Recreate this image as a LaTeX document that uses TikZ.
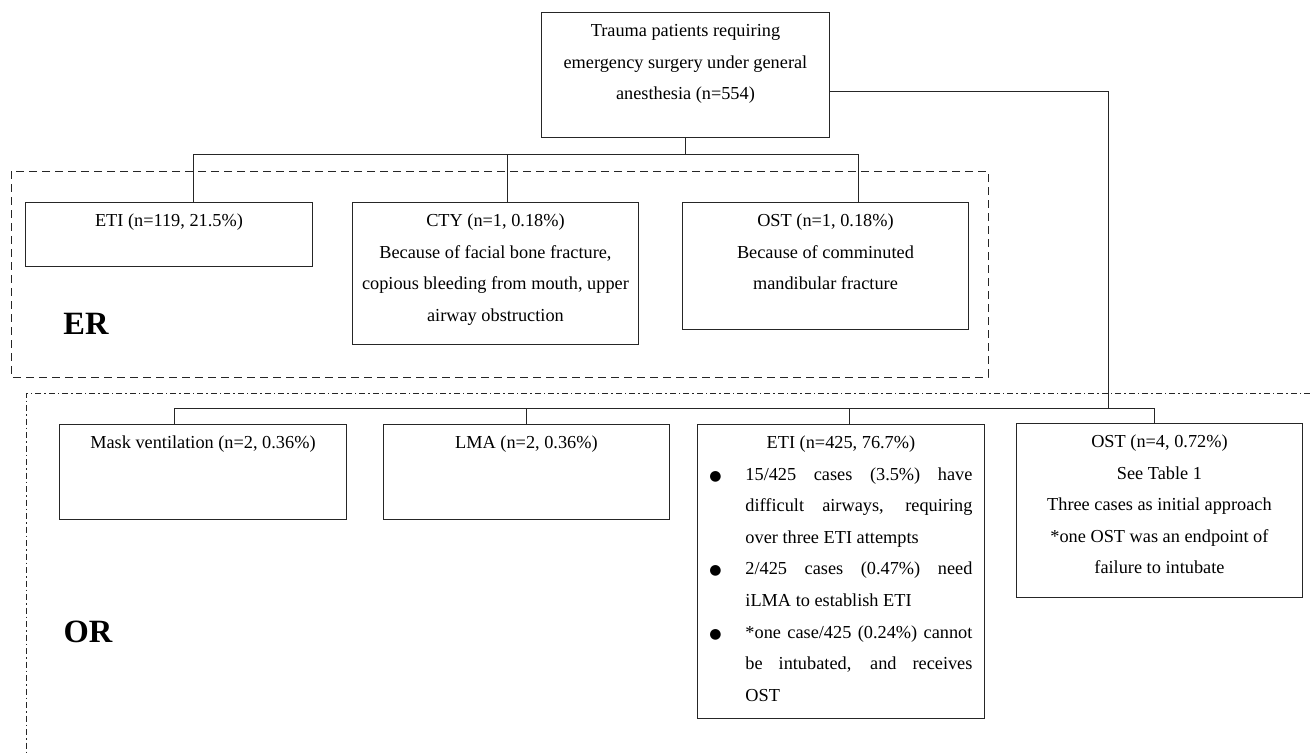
\documentclass[tikz,border=0pt]{standalone}
\usepackage{fontspec}
\setmainfont{Liberation Serif}
\newfontfamily\symfont{DejaVu Sans}

\newcommand{\boxtxt}[3]{%
  \begin{minipage}[t][#2][t]{#1}\centering\rule{0pt}{24pt}#3\end{minipage}}

\newenvironment{etilist}{%
  \begin{list}{{\symfont\fontsize{14}{14}\selectfont ●}}{%
    \setlength\leftmargin{48pt}\setlength\rightmargin{12pt}%
    \setlength\labelwidth{36pt}\setlength\labelsep{12pt}%
    \setlength\topsep{0pt}\setlength\partopsep{0pt}%
    \setlength\itemsep{0pt}\setlength\parsep{0pt}%
    \renewcommand\makelabel[1]{\hfil##1\hfil}}}
  {\end{list}}

\begin{document}
\begin{tikzpicture}[x=1pt, y=-1pt,
  box/.style={draw=black!85, line width=0.9pt, rectangle, anchor=north west,
    inner sep=0pt, font=\fontsize{18.3}{31.6}\selectfont},
  link/.style={draw=black!85, line width=0.9pt},
  zone/.style={font=\fontsize{32.5}{36}\selectfont\bfseries}]

  \useasboundingbox (0,0) rectangle (1310,753);

  % Areas
  \draw[link, dash pattern=on 8pt off 5pt] (11,171) rectangle (988,377); % ER area
  \draw[link, dash pattern=on 6pt off 3pt on 1.5pt off 3pt] (1310,393) -- (26,393) -- (26,753); % OR area

  \node[box] (root) at (541,12) {\boxtxt{288pt}{125pt}{Trauma patients requiring\\
    emergency surgery under general\\ anesthesia (n=554)}};

  % ER
  \node[box] (etier) at (25,202) {\boxtxt{287pt}{64pt}{ETI (n=119, 21.5\%)}};
  \node[box] (cty) at (352,202) {\boxtxt{286pt}{142pt}{CTY (n=1, 0.18\%)\\
    Because of facial bone fracture,\\ copious bleeding from mouth, upper\\ airway obstruction}};
  \node[box] (oster) at (682,202) {\boxtxt{286pt}{127pt}{OST (n=1, 0.18\%)\\
    Because of comminuted\\ mandibular fracture}};
  \node[zone] (erlabel) at (86,324) {ER};

  % OR
  \node[box] (mask) at (59,424) {\boxtxt{287pt}{95pt}{Mask ventilation (n=2, 0.36\%)}};
  \node[box] (lma) at (383,424) {\boxtxt{286pt}{95pt}{LMA (n=2, 0.36\%)}};
  \node[box] (etior) at (697,424) {%
    \begin{minipage}[t][294pt][t]{287pt}
      \parskip=0pt \tolerance=10000 \hyphenpenalty=10000
      {\centering\rule{0pt}{24pt}ETI (n=425, 76.7\%)\par}
      \begin{etilist}
        \item 15/425 cases (3.5\%) have\linebreak difficult airways, requiring\linebreak over three ETI attempts
        \item 2/425 cases (0.47\%) need\linebreak iLMA to establish ETI
        \item *one case/425 (0.24\%) cannot\linebreak be intubated, and receives\linebreak OST
      \end{etilist}
    \end{minipage}};
  \node[box] (ostor) at (1016,423) {\boxtxt{286pt}{174pt}{OST (n=4, 0.72\%)\\ See Table 1\\
    Three cases as initial approach\\ {}*one OST was an endpoint of\\ failure to intubate}};
  \node[zone] (orlabel) at (88,632) {OR};

  % Connectors
  \coordinate (erlevel) at (0,154);
  \coordinate (orlevel) at (0,408);
  \coordinate (orjoin) at (1108,408);

  \coordinate (etiertop) at ([xshift=168pt]etier.north west);
  \coordinate (ctytop) at ([xshift=155pt]cty.north west);
  \coordinate (ostertop) at ([xshift=176pt]oster.north west);
  \coordinate (masktop) at ([xshift=115pt]mask.north west);
  \coordinate (lmatop) at ([xshift=143pt]lma.north west);
  \coordinate (etiortop) at ([xshift=152pt]etior.north west);
  \coordinate (ostortop) at ([xshift=138pt]ostor.north west);

  \draw[link] (root.south) -- (root.south |- erlevel);
  \draw[link] (etiertop |- erlevel) -- (ostertop |- erlevel);
  \foreach \n in {etiertop, ctytop, ostertop}
    \draw[link] (\n) -- (\n |- erlevel); % drop to box

  \draw[link] ([yshift=-16.5pt]root.east) -| (orjoin);
  \draw[link] (masktop |- orlevel) -- (ostortop |- orlevel);
  \foreach \n in {masktop, lmatop, etiortop, ostortop}
    \draw[link] (\n) -- (\n |- orlevel); % drop to box

\end{tikzpicture}
\end{document}
